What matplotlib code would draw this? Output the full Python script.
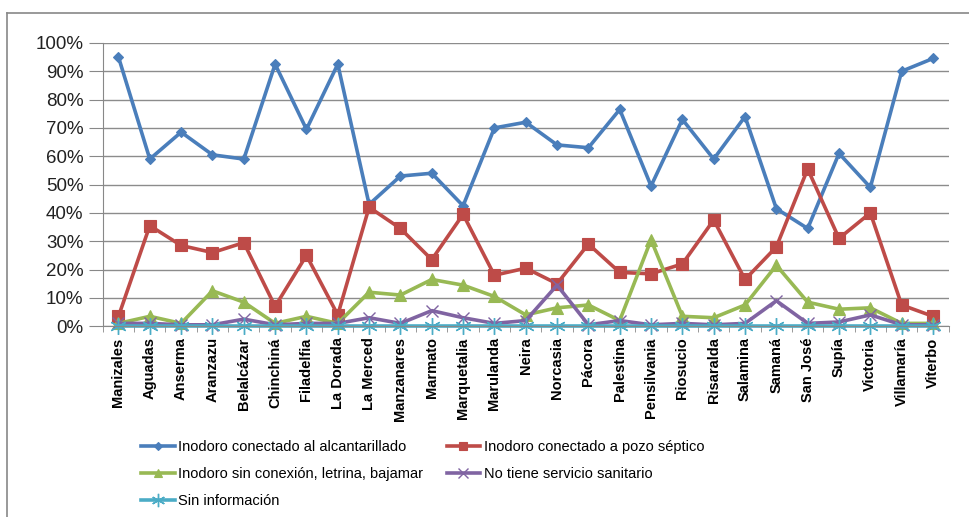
import numpy as np
from matplotlib import pyplot as plt
from matplotlib.lines import Line2D

municipios = [
    'Manizales', 'Aguadas', 'Anserma', 'Aranzazu', 'Belalcázar', 'Chinchiná',
    'Filadelfia', 'La Dorada', 'La Merced', 'Manzanares', 'Marmato',
    'Marquetalia', 'Marulanda', 'Neira', 'Norcasia', 'Pácora', 'Palestina',
    'Pensilvania', 'Riosucio', 'Risaralda', 'Salamina', 'Samaná', 'San José',
    'Supía', 'Victoria', 'Villamaría', 'Viterbo',
]

alcantarillado = [95, 59, 68.5, 60.5, 59, 92.5, 69.5, 92.5, 43, 53, 54, 42.5, 70, 72,
                  64, 63, 76.5, 49.5, 73, 59, 74, 41.5, 34.5, 61, 49, 90, 94.5]
pozo_septico = [3.5, 35.5, 28.5, 26, 29.5, 7, 25, 4, 42, 34.5, 23.5, 39.5, 18, 20.5,
                15, 29, 19, 18.5, 22, 37.5, 16.5, 28, 55.5, 31, 40, 7.5, 3.5]
sin_conexion = [1, 3.5, 1, 12.5, 8.5, 1, 3.5, 1, 12, 11, 16.5, 14.5, 10.5, 4,
                6.5, 7.5, 2, 30.5, 3.5, 3, 7.5, 21.5, 8.5, 6, 6.5, 1, 1]
no_tiene = [1, 1, 0.5, 0.5, 2.5, 0.5, 1, 1, 3, 1, 5.5, 3, 1, 2,
            14.5, 0.5, 2, 0.5, 1, 0.5, 1, 9, 1, 1.5, 4, 0.5, 0.5]
sin_info = [0.2] * 27

series = [
    ('Inodoro conectado al alcantarillado', alcantarillado, '#4a7ebb', 'D', 5),
    ('Inodoro conectado a pozo séptico', pozo_septico, '#be4b48', 's', 8),
    ('Inodoro sin conexión, letrina, bajamar', sin_conexion, '#98b954', '^', 8),
    ('No tiene servicio sanitario', no_tiene, '#8064a2', 'x', 9),
    ('Sin información', sin_info, '#4bacc6', (6, 2, 0), 12),
]

plt.rcParams['font.family'] = ['Liberation Sans', 'DejaVu Sans']

fig = plt.figure(figsize=(9.7, 5.17), dpi=100)
ax = fig.add_axes([0.106, 0.369, 0.872, 0.548])

x = np.arange(len(municipios))
handles = []
for name, vals, color, marker, ms in series:
    h, = ax.plot(x, vals, color=color, linewidth=2.6, marker=marker,
                 markersize=ms, markeredgewidth=1.0 if marker in ('x', (6, 2, 0)) else 0.8,
                 markeredgecolor=color, label=name, clip_on=False)
    handles.append(h)

ax.set_xlim(-0.5, len(municipios) - 0.5)
ax.set_ylim(0, 100)
ax.set_yticks(np.arange(0, 101, 10))
ax.set_yticklabels(['%d%%' % v for v in range(0, 101, 10)], fontsize=13.5, color='#222222')
ax.set_xticks(x)
ax.set_xticklabels(municipios, rotation=90, fontsize=10.5, fontweight='bold')
ax.set_xticks(np.arange(-0.5, len(municipios), 1), minor=True)
ax.tick_params(axis='x', which='major', length=0, pad=8)
ax.tick_params(axis='x', which='minor', length=4, color='#888888')
ax.tick_params(axis='y', length=10, color='#888888', pad=4)
ax.grid(axis='y', color='#8c8c8c', linewidth=1.0)
ax.set_axisbelow(True)
for side in ('top', 'right'):
    ax.spines[side].set_visible(False)
ax.spines['left'].set_color('#888888')
ax.spines['bottom'].set_color('#888888')

order = [0, 2, 4, 1, 3]
fig.legend([handles[i] for i in order], [series[i][0] for i in order],
           ncol=2, loc='upper left', bbox_to_anchor=(0.132, 0.175),
           frameon=False, fontsize=10.5,
           handlelength=2.3, handletextpad=0.25, markerscale=0.8,
           columnspacing=1.6, labelspacing=0.9)

# chart frame (top and left borders)
fig.add_artist(Line2D([0.007, 1.0], [0.975, 0.975], color='#888888', linewidth=1.2))
fig.add_artist(Line2D([0.007, 0.007], [0.0, 0.975], color='#888888', linewidth=1.2))

plt.savefig('out.png', dpi=100)
